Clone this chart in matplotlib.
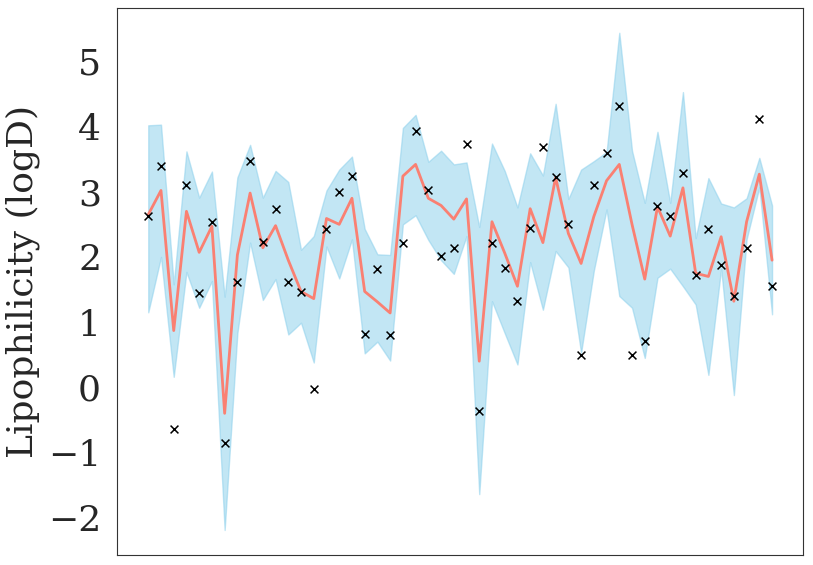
import numpy as np
import matplotlib.pyplot as plt
import seaborn as sns
from matplotlib.ticker import MultipleLocator

# measured logD, predicted mean and band (lower/upper) per compound
measured = [2.63, 3.40, -0.64, 3.11, 1.44, 2.53, -0.86, 1.62, 3.47, 2.23,
            2.74, 1.62, 1.46, -0.02, 2.43, 2.99, 3.24, 0.82, 1.81, 0.80,
            2.22, 3.94, 3.03, 2.02, 2.13, 3.74, -0.37, 2.21, 1.83, 1.32,
            2.44, 3.69, 3.22, 2.51, 0.50, 3.11, 3.59, 4.32, 0.50, 0.71,
            2.78, 2.63, 3.29, 1.72, 2.43, 1.87, 1.40, 2.14, 4.11, 1.56]
pred_mean = [2.65, 3.02, 0.87, 2.70, 2.07, 2.47, -0.40, 2.03, 2.98, 2.14,
             2.48, 1.95, 1.47, 1.36, 2.59, 2.50, 2.90, 1.47, 1.31, 1.14,
             3.24, 3.42, 2.90, 2.79, 2.58, 2.89, 0.40, 2.54, 2.06, 1.55,
             2.74, 2.22, 3.22, 2.36, 1.90, 2.62, 3.17, 3.42, 2.50, 1.66,
             2.77, 2.32, 3.06, 1.75, 1.70, 2.31, 1.32, 2.54, 3.27, 1.95]
pred_upper = [4.02, 4.03, 1.58, 3.62, 2.91, 3.31, 1.39, 3.22, 3.72, 2.91,
              3.32, 3.15, 2.11, 2.32, 3.02, 3.34, 3.54, 2.43, 2.04, 2.03,
              3.98, 4.18, 3.46, 3.63, 3.42, 3.45, 2.46, 3.74, 3.32, 2.76,
              3.59, 3.25, 4.35, 2.89, 3.34, 3.47, 3.61, 5.44, 3.63, 2.83,
              3.92, 2.83, 4.53, 2.29, 3.21, 2.82, 2.76, 2.90, 3.52, 2.79]
pred_lower = [1.15, 2.00, 0.16, 1.77, 1.22, 1.63, -2.19, 0.83, 2.22, 1.34,
              1.66, 0.81, 0.99, 0.38, 2.16, 1.67, 2.27, 0.52, 0.70, 0.41,
              2.50, 2.64, 2.26, 1.95, 1.74, 2.32, -1.64, 1.32, 0.83, 0.35,
              1.92, 1.19, 2.09, 1.84, 0.53, 1.79, 2.73, 1.40, 1.22, 0.45,
              1.68, 1.82, 1.55, 1.27, 0.19, 1.82, -0.12, 2.27, 3.07, 1.12]

sns.set_style("white")
plt.rcParams['font.family'] = ['DejaVu Serif']

idx = np.arange(len(measured))

fig, ax = plt.subplots(figsize=(8.13, 5.65), dpi=100)
fig.subplots_adjust(left=0.144, right=0.988, top=0.986, bottom=0.018)

ax.fill_between(idx, pred_lower, pred_upper, color='skyblue', alpha=0.5)
ax.plot(idx, pred_mean, color='salmon', linewidth=2)
ax.scatter(idx, measured, marker='x', color='k', s=32, linewidths=1.1, zorder=3)

ax.set_xticks([])
ax.yaxis.set_major_locator(MultipleLocator(1))
ax.set_ylabel('Lipophilicity (logD)', fontsize=26, labelpad=6)
ax.tick_params(axis='y', labelsize=26, pad=8)
for s in ax.spines.values():
    s.set_color('#333333')

fig.savefig('out.png', dpi=100)
